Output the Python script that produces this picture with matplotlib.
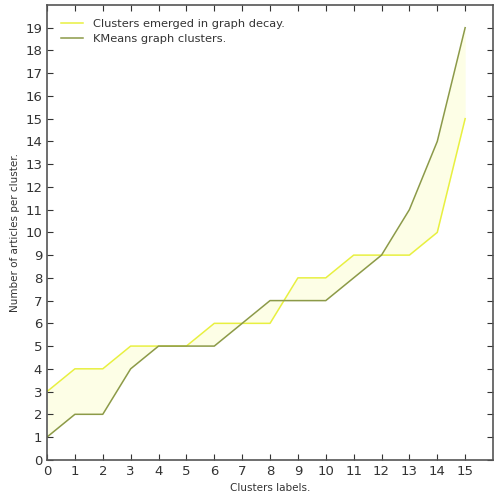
import matplotlib
matplotlib.use("Agg")
import matplotlib.pyplot as plt
import numpy as np

cluster_labels = list(range(16))
decay_sizes = [3, 4, 4, 5, 5, 5, 6, 6, 6, 8, 8, 9, 9, 9, 10, 15]
kmeans_sizes = [1, 2, 2, 4, 5, 5, 5, 6, 7, 7, 7, 8, 9, 11, 14, 19]
x_ticks = list(range(16))
y_ticks = list(range(20))

fig = plt.figure(figsize=(4.95, 4.96), dpi=100)
ax = fig.add_axes([0.095, 0.073, 0.901, 0.917])

ax.fill_between(cluster_labels, decay_sizes, kmeans_sizes,
                color="#fdfee6", linewidth=0)
ax.plot(cluster_labels, decay_sizes, color="#e8f040", lw=1.1,
        label="Clusters emerged in graph decay.")
ax.plot(cluster_labels, kmeans_sizes, color="#8c9a48", lw=1.1,
        label="KMeans graph clusters.")

ax.set_xlim(0, 16)
ax.set_ylim(0, 20)
ax.set_xticks(x_ticks)
ax.set_yticks(y_ticks)
ax.tick_params(direction="in", top=True, right=True, labelsize=9.5,
               colors="#333333", length=4)
for s in ax.spines.values():
    s.set_color("#555555")
    s.set_linewidth(1.2)

ax.set_xlabel("Clusters labels.", fontsize=7.5, color="#333333", labelpad=4)
ax.set_ylabel("Number of articles per cluster.", fontsize=7.5,
              color="#333333", labelpad=4)

ax.legend(loc="upper left", frameon=False, fontsize=8.2, handlelength=2,
          labelcolor="#333333", borderaxespad=0.8)

fig.savefig("out.png", dpi=100)
